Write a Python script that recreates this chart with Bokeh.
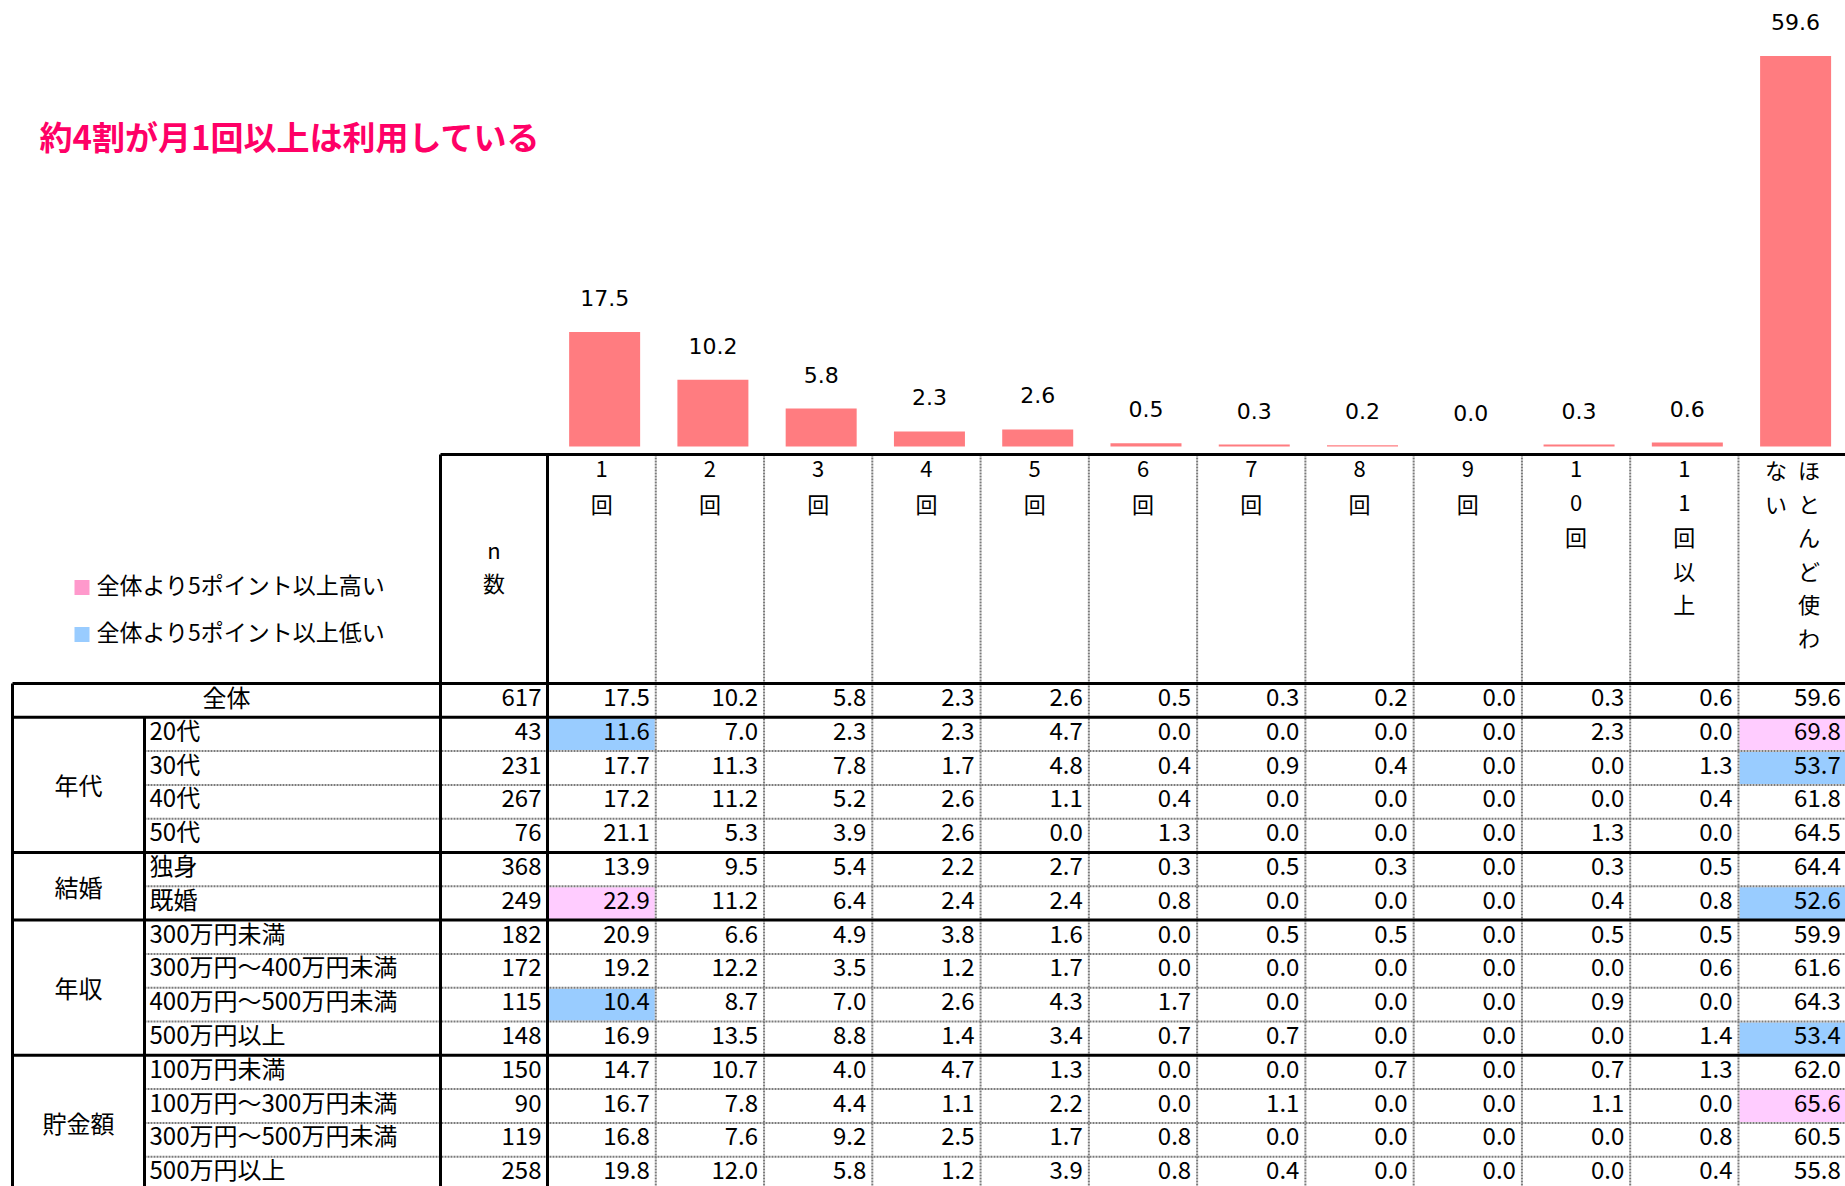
from bokeh.plotting import figure
from bokeh.models import Range1d
from bokeh.embed import file_html
from bokeh.resources import INLINE
from bokeh.core.properties import value

# ---------------- data ----------------
title_text = "約4割が月1回以上は利用している"
legend_labels = ["全体より5ポイント以上高い", "全体より5ポイント以上低い"]
n_header = "n数"
total_label = "全体"
col_labels = ["1回", "2回", "3回", "4回", "5回", "6回", "7回", "8回", "9回",
              "10回", "11回以上", "ほとんど使わない"]
total_n = 617
total_values = [17.5, 10.2, 5.8, 2.3, 2.6, 0.5, 0.3, 0.2, 0.0, 0.3, 0.6, 59.6]

group_names = ["年代", "結婚", "年収", "貯金額"]
row_labels = ["20代", "30代", "40代", "50代",
              "独身", "既婚",
              "300万円未満", "300万円～400万円未満", "400万円～500万円未満", "500万円以上",
              "100万円未満", "100万円～300万円未満", "300万円～500万円未満", "500万円以上"]
row_group = [0, 0, 0, 0, 1, 1, 2, 2, 2, 2, 3, 3, 3, 3]
row_n = [43, 231, 267, 76, 368, 249, 182, 172, 115, 148, 150, 90, 119, 258]
row_values = [
    [11.6, 7.0, 2.3, 2.3, 4.7, 0.0, 0.0, 0.0, 0.0, 2.3, 0.0, 69.8],
    [17.7, 11.3, 7.8, 1.7, 4.8, 0.4, 0.9, 0.4, 0.0, 0.0, 1.3, 53.7],
    [17.2, 11.2, 5.2, 2.6, 1.1, 0.4, 0.0, 0.0, 0.0, 0.0, 0.4, 61.8],
    [21.1, 5.3, 3.9, 2.6, 0.0, 1.3, 0.0, 0.0, 0.0, 1.3, 0.0, 64.5],
    [13.9, 9.5, 5.4, 2.2, 2.7, 0.3, 0.5, 0.3, 0.0, 0.3, 0.5, 64.4],
    [22.9, 11.2, 6.4, 2.4, 2.4, 0.8, 0.0, 0.0, 0.0, 0.4, 0.8, 52.6],
    [20.9, 6.6, 4.9, 3.8, 1.6, 0.0, 0.5, 0.5, 0.0, 0.5, 0.5, 59.9],
    [19.2, 12.2, 3.5, 1.2, 1.7, 0.0, 0.0, 0.0, 0.0, 0.0, 0.6, 61.6],
    [10.4, 8.7, 7.0, 2.6, 4.3, 1.7, 0.0, 0.0, 0.0, 0.9, 0.0, 64.3],
    [16.9, 13.5, 8.8, 1.4, 3.4, 0.7, 0.7, 0.0, 0.0, 0.0, 1.4, 53.4],
    [14.7, 10.7, 4.0, 4.7, 1.3, 0.0, 0.0, 0.7, 0.0, 0.7, 1.3, 62.0],
    [16.7, 7.8, 4.4, 1.1, 2.2, 0.0, 1.1, 0.0, 0.0, 1.1, 0.0, 65.6],
    [16.8, 7.6, 9.2, 2.5, 1.7, 0.8, 0.0, 0.0, 0.0, 0.0, 0.8, 60.5],
    [19.8, 12.0, 5.8, 1.2, 3.9, 0.8, 0.4, 0.0, 0.0, 0.0, 0.4, 55.8],
]
threshold = 5.0

# ---------------- layout (screen pixels) ----------------
FIG_W, FIG_H = 1845, 1186
OFF = 0
TBL_LEFT, GRP_RIGHT, LBL_RIGHT, N_RIGHT = 12, 144, 440, 547
COL_W = 108.27
NCOL = len(col_labels)
HEAD_TOP, BODY_TOP, ROW_H = 454, 683, 33.8
EDGE = 1900
BAR_BASE, PX_PER_UNIT, BAR_W, LABEL_GAP, BAR_SHIFT = 446, 6.55, 71, 34, 3
JP_DY = -3.5          # vertical nudge for CJK font glyph centring
JP = value("Noto Sans CJK JP")
NUMF = value("DejaVu Sans")
PINK_CELL, BLUE_CELL = "#FFCCFF", "#99CCFF"
PINK_KEY, BLUE_KEY = "#FF99CC", "#99CCFF"

p = figure(width=FIG_W, height=FIG_H,
           x_range=Range1d(OFF, OFF + FIG_W),
           y_range=Range1d(OFF + FIG_H, OFF),
           x_axis_type=None, y_axis_type=None,
           toolbar_location=None, output_backend="svg",
           min_border=0, outline_line_color=None)
p.extra_y_ranges = {"bar": Range1d(start=(BAR_BASE - (OFF + FIG_H)) / PX_PER_UNIT,
                                   end=(BAR_BASE - OFF) / PX_PER_UNIT)}

col_left = [N_RIGHT + i * COL_W for i in range(NCOL)]
col_center = [l + COL_W / 2 for l in col_left]

# ---------------- bars ----------------
bar_x = [c + BAR_SHIFT for c in col_center]
p.vbar(x=bar_x, top=total_values, bottom=0, width=BAR_W,
       fill_color="#FF7C80", line_color=None, y_range_name="bar")
p.text(x=bar_x, y=total_values,
       text=[f"{v:.1f}" for v in total_values], y_range_name="bar",
       y_offset=-LABEL_GAP, text_align="center", text_baseline="middle",
       text_font=NUMF, text_font_size="22px", text_color="#000000")

# ---------------- title & legend ----------------
p.text(x=[39], y=[138], text=[title_text], text_align="left", text_baseline="middle",
       y_offset=-3, text_font=JP, text_font_size="33px", text_font_style="bold",
       text_color="#FF0066")
p.scatter(x=[81.5, 81.5], y=[587, 634], marker="square", size=15,
          fill_color=[PINK_KEY, BLUE_KEY], line_color=None)
p.text(x=[96, 96], y=[587, 634], text=legend_labels, text_align="left",
       text_baseline="middle", y_offset=JP_DY, text_font=JP, text_font_size="23px",
       text_color="#000000")

# ---------------- table: highlight cells ----------------
all_n = [total_n] + row_n
all_vals = [total_values] + row_values
row_top = [BODY_TOP + r * ROW_H for r in range(len(all_vals))]
TBL_BOTTOM = row_top[-1] + ROW_H

hl_l, hl_r, hl_t, hl_b, hl_c = [], [], [], [], []
for r, vals in enumerate(row_values, start=1):
    for c, v in enumerate(vals):
        d = round(v - total_values[c], 1)
        if d >= threshold or d <= -threshold:
            hl_l.append(col_left[c] + 1)
            hl_r.append(col_left[c] + COL_W - 1)
            hl_t.append(row_top[r] + 1)
            hl_b.append(row_top[r] + ROW_H - 1)
            hl_c.append(PINK_CELL if d > 0 else BLUE_CELL)
p.quad(left=hl_l, right=hl_r, top=hl_t, bottom=hl_b, fill_color=hl_c, line_color=None)

# ---------------- table: grid lines ----------------
gx0, gy0, gx1, gy1 = [], [], [], []
for i in range(1, NCOL):
    gx0.append(col_left[i]); gx1.append(col_left[i]); gy0.append(HEAD_TOP); gy1.append(TBL_BOTTOM)
for r in range(2, len(all_vals)):
    if row_group[r - 1] == row_group[r - 2]:
        gx0.append(GRP_RIGHT); gx1.append(EDGE); gy0.append(row_top[r]); gy1.append(row_top[r])
p.segment(x0=gx0, y0=gy0, x1=gx1, y1=gy1, line_color="#7a7a7a", line_width=2, line_dash="2 1")

tx0 = [LBL_RIGHT, LBL_RIGHT, N_RIGHT, TBL_LEFT, TBL_LEFT, TBL_LEFT, GRP_RIGHT]
ty0 = [HEAD_TOP, HEAD_TOP, HEAD_TOP, BODY_TOP, BODY_TOP + ROW_H, BODY_TOP, BODY_TOP + ROW_H]
tx1 = [EDGE, LBL_RIGHT, N_RIGHT, EDGE, EDGE, TBL_LEFT, GRP_RIGHT]
ty1 = [HEAD_TOP, TBL_BOTTOM, TBL_BOTTOM, BODY_TOP, BODY_TOP + ROW_H, TBL_BOTTOM, TBL_BOTTOM]
for r in range(2, len(all_vals)):
    if row_group[r - 1] != row_group[r - 2]:
        tx0.append(TBL_LEFT); tx1.append(EDGE); ty0.append(row_top[r]); ty1.append(row_top[r])
tx0.append(TBL_LEFT); tx1.append(EDGE); ty0.append(TBL_BOTTOM); ty1.append(TBL_BOTTOM)
p.segment(x0=tx0, y0=ty0, x1=tx1, y1=ty1, line_color="#000000", line_width=3)

# ---------------- table: header texts (vertical writing) ----------------
CH_TOP, CH_STEP, MAXCH, LINE_STEP = 472, 33.5, 6, 33
hx, hy, ht = [], [], []
for c, lab in enumerate(col_labels):
    chunks = [lab[i:i + MAXCH] for i in range(0, len(lab), MAXCH)]
    m = len(chunks)
    for j, ch in enumerate(chunks):
        x = col_center[c] + (m - 1) / 2 * LINE_STEP - j * LINE_STEP
        for k, s in enumerate(ch):
            hx.append(x); hy.append(CH_TOP + k * CH_STEP); ht.append(s)
nmid = (HEAD_TOP + BODY_TOP) / 2
for k, s in enumerate(n_header):
    hx.append((LBL_RIGHT + N_RIGHT) / 2)
    hy.append(nmid + (k - (len(n_header) - 1) / 2) * CH_STEP)
    ht.append(s)
p.text(x=hx, y=hy, text=ht, text_align="center", text_baseline="middle", y_offset=JP_DY,
       text_font=JP, text_font_size="22px", text_color="#000000")

# ---------------- table: row labels ----------------
lx, ly, lt = [], [], []
lx.append((TBL_LEFT + LBL_RIGHT) / 2); ly.append(row_top[0] + ROW_H / 2); lt.append(total_label)
for r, lab in enumerate(row_labels, start=1):
    lx.append(GRP_RIGHT + 5); ly.append(row_top[r] + ROW_H / 2); lt.append(lab)
p.text(x=lx[:1], y=ly[:1], text=lt[:1], text_align="center", text_baseline="middle",
       y_offset=JP_DY, text_font=JP, text_font_size="24px", text_color="#000000")
p.text(x=lx[1:], y=ly[1:], text=lt[1:], text_align="left", text_baseline="middle",
       y_offset=JP_DY - 1.5, text_font=JP, text_font_size="24px", text_color="#000000")

gxs, gys = [], []
for g, name in enumerate(group_names):
    rows = [r for r in range(1, len(all_vals)) if row_group[r - 1] == g]
    gxs.append((TBL_LEFT + GRP_RIGHT) / 2)
    gys.append((row_top[rows[0]] + row_top[rows[-1]] + ROW_H) / 2)
p.text(x=gxs, y=gys, text=group_names, text_align="center", text_baseline="middle",
       text_font=JP, text_font_size="24px", text_color="#000000")

# ---------------- table: numbers ----------------
nx, ny, nt = [], [], []
for r, vals in enumerate(all_vals):
    yc = row_top[r] + ROW_H / 2
    nx.append(N_RIGHT - 6); ny.append(yc); nt.append(str(all_n[r]))
    for c, v in enumerate(vals):
        nx.append(col_left[c] + COL_W - 6); ny.append(yc); nt.append(f"{v:.1f}")
p.text(x=nx, y=ny, text=nt, text_align="right", text_baseline="middle", y_offset=JP_DY,
       text_font=JP, text_font_size="24px", text_color="#000000")

open("out.html", "w").write(file_html(p, INLINE))
